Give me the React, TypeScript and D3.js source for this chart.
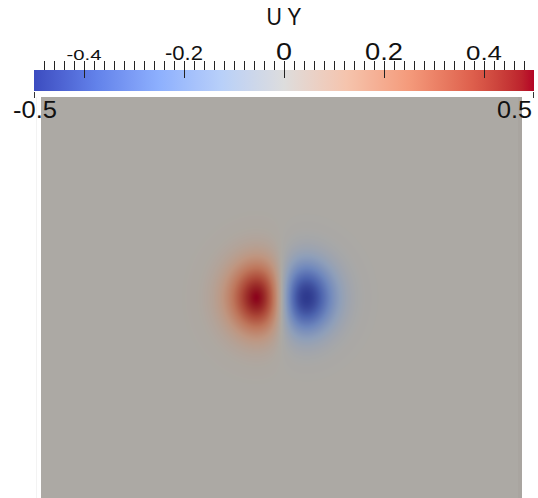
import React, { useMemo } from "react";
import * as d3 from "d3";

const WIDTH = 538;
const HEIGHT = 498;

// Cool-to-warm diverging colour map for U Y
const colorValues = [-0.5, -0.375, -0.25, -0.125, 0, 0.125, 0.25, 0.375, 0.5];
const colorHexes = [
  "#3b4cc0",
  "#6282ea",
  "#8db0fe",
  "#b8d0f9",
  "#dddddd",
  "#f5c4ad",
  "#f49a7b",
  "#de604d",
  "#b40426",
];

// Colour-bar ticks and labels
const majorTicks = [-0.4, -0.2, 0, 0.2, 0.4];
const majorLabels = ["-0.4", "-0.2", "0", "0.2", "0.4"];
const majorLabelSizes = [15, 21, 23, 23, 21];
const majorLabelWidths = [35, 38, 16, 38, 36];
const minorTickCount = 24; // ticks every 0.02 on each side of zero
const rangeValues = [-0.5, 0.5];
const rangeLabels = ["-0.5", "0.5"];
const title = "U Y";

// Vortex producing the U Y dipole (domain units, square domain [-1, 1])
const vortexCenter = [0.0, 0.166];
const vortexWidth = [0.148];
const vortexPeak = [0.5];

// Flat lighting applied to the rendered surface
const surfaceShade = [0.778, 0.765, 0.742];

export default function App() {
  const color = useMemo(
    () =>
      d3
        .scaleLinear<string>()
        .domain(colorValues)
        .range(colorHexes)
        .interpolate(d3.interpolateLab)
        .clamp(true),
    []
  );

  // colour bar geometry
  const barX = d3.scaleLinear().domain([-0.5, 0.5]).range([34, 534]);
  const barTop = 70;
  const barBottom = 91;

  // field geometry
  const fieldLeft = 41;
  const fieldRight = 522;
  const fieldTop = 97;
  const fieldSize = fieldRight - fieldLeft;
  const xs = d3.scaleLinear().domain([-1, 1]).range([fieldLeft, fieldRight]);
  const ys = d3.scaleLinear().domain([-1, 1]).range([fieldTop + fieldSize, fieldTop]);
  const visibleH = HEIGHT - fieldTop;

  const fieldImage = useMemo(() => {
    const canvas = document.createElement("canvas");
    canvas.width = fieldSize;
    canvas.height = visibleH;
    const ctx = canvas.getContext("2d");
    if (!ctx) return "";
    const img = ctx.createImageData(fieldSize, visibleH);
    const s = vortexWidth[0];
    const xp = s / Math.SQRT2;
    for (let j = 0; j < visibleH; j++) {
      const y = ys.invert(fieldTop + j + 0.5);
      for (let i = 0; i < fieldSize; i++) {
        const x = xs.invert(fieldLeft + i + 0.5);
        const dx = x - vortexCenter[0];
        const dy = y - vortexCenter[1];
        const r2 = dx * dx + dy * dy;
        const uy = -vortexPeak[0] * (dx / xp) * Math.exp(0.5 - r2 / (s * s));
        const c = d3.rgb(color(uy));
        const k = (j * fieldSize + i) * 4;
        img.data[k] = c.r * surfaceShade[0];
        img.data[k + 1] = c.g * surfaceShade[1];
        img.data[k + 2] = c.b * surfaceShade[2];
        img.data[k + 3] = 255;
      }
    }
    ctx.putImageData(img, 0, 0);
    return canvas.toDataURL();
  }, [color]);

  const gradientStops = d3.range(0, 41).map((i) => {
    const v = -0.5 + i / 40;
    return { offset: `${(i / 40) * 100}%`, color: color(v) };
  });

  const minorTicks = d3
    .range(-minorTickCount, minorTickCount + 1)
    .map((i) => i * 0.02)
    .filter((v) => !majorTicks.some((m) => Math.abs(m - v) < 1e-6));

  const font = "'Liberation Sans', Arial, Helvetica, sans-serif";

  return (
    <svg
      width={WIDTH}
      height={HEIGHT}
      style={{ position: "absolute", left: 0, top: 0, background: "#ffffff" }}
    >
      <defs>
        <linearGradient id="uy-bar" x1="0" x2="1" y1="0" y2="0">
          {gradientStops.map((s, i) => (
            <stop key={i} offset={s.offset} stopColor={s.color} />
          ))}
        </linearGradient>
      </defs>

      {/* surface */}
      <line x1={36.5} x2={36.5} y1={fieldTop} y2={HEIGHT} stroke="#f3f3f3" strokeWidth={1} />
      <image
        href={fieldImage}
        x={fieldLeft}
        y={fieldTop}
        width={fieldSize}
        height={visibleH}
        preserveAspectRatio="none"
      />
      <rect x={fieldRight - 4} y={fieldTop} width={4} height={visibleH} fill="#a7a49f" opacity={0.6} />

      {/* title */}
      <text
        x={266.5}
        y={25}
        fontFamily={font}
        fontSize={24}
        fill="#111"
        textLength={35}
        lengthAdjust="spacingAndGlyphs"
      >
        {title}
      </text>

      {/* colour bar */}
      <rect
        x={barX(-0.5)}
        y={barTop}
        width={barX(0.5) - barX(-0.5)}
        height={barBottom - barTop}
        fill="url(#uy-bar)"
      />

      {minorTicks.map((v, i) => (
        <line
          key={`m${i}`}
          x1={Math.round(barX(v)) + 0.5}
          x2={Math.round(barX(v)) + 0.5}
          y1={61}
          y2={barTop}
          stroke="#222"
          strokeWidth={1}
        />
      ))}
      {majorTicks.map((v, i) => (
        <line
          key={`M${i}`}
          x1={Math.round(barX(v)) + 0.5}
          x2={Math.round(barX(v)) + 0.5}
          y1={61}
          y2={78}
          stroke="#222"
          strokeWidth={1}
        />
      ))}
      {majorTicks.map((v, i) => (
        <text
          key={`L${i}`}
          x={barX(v) - majorLabelWidths[i] / 2}
          y={60}
          fontFamily={font}
          fontSize={majorLabelSizes[i]}
          fill="#111"
          textLength={majorLabelWidths[i]}
          lengthAdjust="spacingAndGlyphs"
        >
          {majorLabels[i]}
        </text>
      ))}

      {/* range ends */}
      {rangeValues.map((v, i) => (
        <line
          key={`R${i}`}
          x1={Math.round(barX(v)) - (i === 0 ? 0 : 1) + 0.5}
          x2={Math.round(barX(v)) - (i === 0 ? 0 : 1) + 0.5}
          y1={92}
          y2={98}
          stroke="#333"
          strokeWidth={1}
        />
      ))}
      <text
        x={13}
        y={117.5}
        fontFamily={font}
        fontSize={24}
        fill="#111"
        textLength={44}
        lengthAdjust="spacingAndGlyphs"
      >
        {rangeLabels[0]}
      </text>
      <text
        x={497}
        y={117.5}
        fontFamily={font}
        fontSize={24}
        fill="#111"
        textLength={35}
        lengthAdjust="spacingAndGlyphs"
      >
        {rangeLabels[1]}
      </text>
    </svg>
  );
}
